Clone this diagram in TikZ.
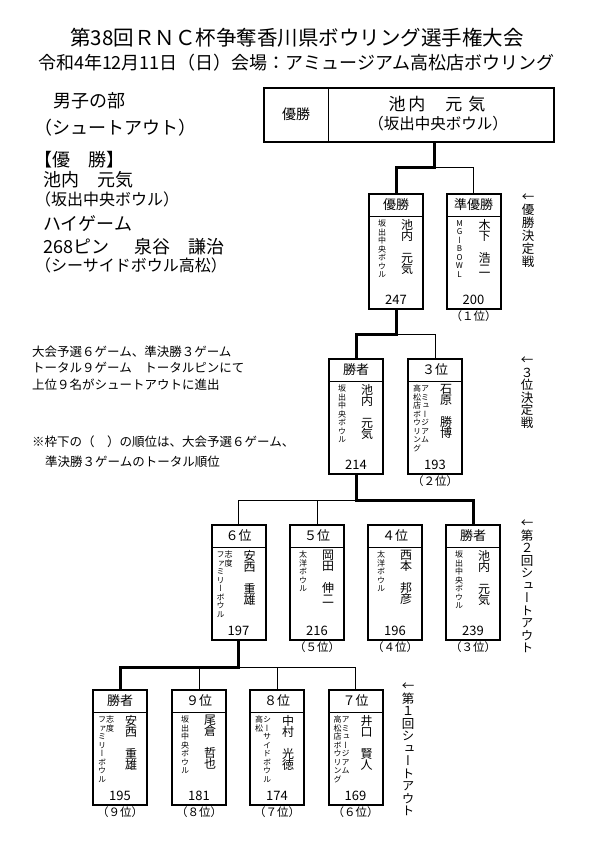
\documentclass[tikz,border=0pt]{standalone}
\usepackage{fontspec}
\setmainfont{Noto Sans CJK JP}
\newfontfamily\tatefont[RawFeature=+vert]{Noto Sans CJK JP}
\usetikzlibrary{positioning}
% tategaki: one character per line
\newlength\tatepitch
\def\tateloop#1{\ifx\relax#1\else\hbox to 1em{\hss#1\hss}\expandafter\tateloop\fi}
\newcommand\tate[2][8.5pt]{\setlength\tatepitch{#1}%
  \vtop{\tatefont\baselineskip=\tatepitch\lineskiplimit=-\maxdimen\lineskip=0pt\tateloop#2\relax}}
\newcommand\ya{{\normalfont ←}}
\newcommand\fs[1]{\fontsize{#1}{#1}\selectfont}
\tikzset{
  pbody/.style = {draw, line width=2pt, anchor=north, minimum width=54pt,
    minimum height=115pt, inner sep=0pt},% player frame
  phead/.style = {draw, line width=1pt, minimum width=54pt,
    minimum height=23pt, inner sep=0pt, font=\fs{13}},% header (rank)
  pclub/.style = {anchor=north, inner sep=0pt, font=\fs{8}},% bowling centre
  pname/.style = {anchor=north, inner sep=0pt, font=\fs{12}},% player name
  pscore/.style = {inner sep=0pt, font=\fs{13}},
  prank/.style = {anchor=north, inner sep=0pt, font=\fs{11.5}},
  side/.style = {anchor=north, inner sep=0pt, font=\fs{12.5}},% round label
  lefttxt/.style = {anchor=west, inner sep=0pt},
  win/.style = {line width=3pt},
  lose/.style = {line width=1pt}
}
\newcommand\pbox[7]{%
  \node[pbody] (#1) at (#2) {};
  \node[phead, below=0pt of #1.north] (#1h) {#3};
  \node[pclub] (#1c) at ([xshift=-14pt,yshift=-3pt]#1h.south) {#4};
  \node[pname] (#1n) at ([xshift=11pt,yshift=-2pt]#1h.south) {\tate[11pt]{#5}};
  \node[pscore] (#1s) at ([yshift=10pt]#1.south) {#6};
  \node[prank] (#1r) at (#1.south) {#7};
}
\begin{document}
\begin{tikzpicture}[x=1pt, y=-1pt]
  \useasboundingbox (0,0) rectangle (595,842);
  % titles
  \node[font=\fs{20.5}] (title) at (297,38) {第38回ＲＮＣ杯争奪香川県ボウリング選手権大会};
  \node[font=\fs{18}] (date) at (296,63) {令和4年12月11日（日）会場：アミュージアム高松店ボウリング};
  % left column
  \node[lefttxt, font=\fs{18}] (bu) at (53,101) {男子の部};
  \node[lefttxt, font=\fs{18}] (so) at (34,128) {（シュートアウト）};
  \node[lefttxt, font=\fs{18}] (yu) at (34,160) {【優　勝】};
  \node[lefttxt, font=\fs{18}] (yun) at (43,180) {池内　元気};
  \node[lefttxt, font=\fs{16}] (yuc) at (35,199) {（坂出中央ボウル）};
  \node[lefttxt, font=\fs{18}] (hg) at (43,224) {ハイゲーム};
  \node[lefttxt, font=\fs{18}] (hgn) at (43,247) {268ピン\hspace{1.4em}泉谷\hspace{1em}謙治};
  \node[lefttxt, font=\fs{16}] (hgc) at (35,265) {（シーサイドボウル高松）};
  \node[lefttxt, font=\fs{12.5}] (n1) at (32,352) {大会予選６ゲーム、準決勝３ゲーム};
  \node[lefttxt, font=\fs{12.5}] (n2) at (32,368) {トータル９ゲーム　トータルピンにて};
  \node[lefttxt, font=\fs{12.5}] (n3) at (32,385) {上位９名がシュートアウトに進出};
  \node[lefttxt, font=\fs{12.5}] (n4) at (32,442) {※枠下の（　）の順位は、大会予選６ゲーム、};
  \node[lefttxt, font=\fs{12.5}] (n5) at (45,462) {準決勝３ゲームのトータル順位};
  % champion
  \node[draw, line width=1.8pt, anchor=north west, minimum width=290pt,
    minimum height=54pt, inner sep=0pt] (champ) at (263,87) {};
  \node[draw, line width=1.2pt, anchor=north west, minimum width=65pt,
    minimum height=54pt, font=\fs{14}] (champh) at (champ.north west) {優勝};
  \node[font=\fs{17}] (champn) at (437,104) {池\hspace{3pt}内\hspace{20pt}元\hspace{6pt}気};
  \node[font=\fs{15.5}] (champc) at (438,124) {（坂出中央ボウル）};
  % players
  \pbox{f1}{396,193}{優勝}{\tate{坂出中央ボウル}}{池内　元気}{247}{}
  \pbox{f2}{473.5,193}{準優勝}{\tate{MGーBOWL}}{木下　浩二}{200}{（１位）}
  \pbox{t1}{356,358}{勝者}{\tate{坂出中央ボウル}}{池内　元気}{214}{}
  \pbox{t2}{435,358}{３位}{\tate{高松店ボウリング}\tate{アミュージアム}}{石原　勝博}{193}{（２位）}
  \pbox{r1}{238.5,524}{６位}{\tate{ファミリーボウル}\tate{志度}}{安西　重雄}{197}{}
  \pbox{r2}{317,524}{５位}{\tate{太洋ボウル}}{岡田　伸二}{216}{（５位）}
  \pbox{r3}{395,524}{４位}{\tate{太洋ボウル}}{西本　邦彦}{196}{（４位）}
  \pbox{r4}{473,524}{勝者}{\tate{坂出中央ボウル}}{池内　元気}{239}{（３位）}
  \pbox{q1}{120,689}{勝者}{\tate{ファミリーボウル}\tate{志度}}{安西　重雄}{195}{（９位）}
  \pbox{q2}{199,689}{９位}{\tate{坂出中央ボウル}}{尾倉　哲也}{181}{（８位）}
  \pbox{q3}{277,689}{８位}{\tate{高松}\tate{シーサイドボウル}}{中村　光徳}{174}{（７位）}
  \pbox{q4}{355.5,689}{７位}{\tate{高松店ボウリング}\tate{アミュージアム}}{井口　賢人}{169}{（６位）}
  % round labels
  \node[side] (lab1) at (528,194) {\tate[13pt]{\ya 優勝決定戦}};
  \node[side] (lab2) at (527,357) {\tate[12.5pt]{\ya ３位決定戦}};
  \node[side] (lab3) at (527,520) {\tate[12.5pt]{\ya 第２回シュートアウト}};
  \node[side] (lab4) at (408,683) {\tate[12.5pt]{\ya 第１回シュートアウト}};
  % bracket
  \coordinate (j0) at (434,168);
  \coordinate (j1) at ([yshift=-24pt]f1.south);
  \coordinate (j2) at ([yshift=-25pt]t1.south);
  \coordinate (j3) at ([yshift=-26pt]r1.south);
  \draw[lose] (j0) -| (f2.north);
  \draw[lose] (j1) -| (t2.north);
  \draw[lose] (j2) -| (r1.north);
  \draw[lose] (j2 -| r2.north) -- (r2.north);
  \draw[lose] (j3) -| (q4.north);
  \draw[lose] (j3 -| q2.north) -- (q2.north);
  \draw[lose] (j3 -| q3.north) -- (q3.north);
  \draw[win] (j0 |- champ.south) -- (j0) -| (f1.north);
  \draw[win] (f1.south) -- (j1) -| (t1.north);
  \draw[win] (t1.south) -- (j2) -| (r4.north);
  \draw[win] (r1.south) -- (j3) -| (q1.north);
\end{tikzpicture}
\end{document}
